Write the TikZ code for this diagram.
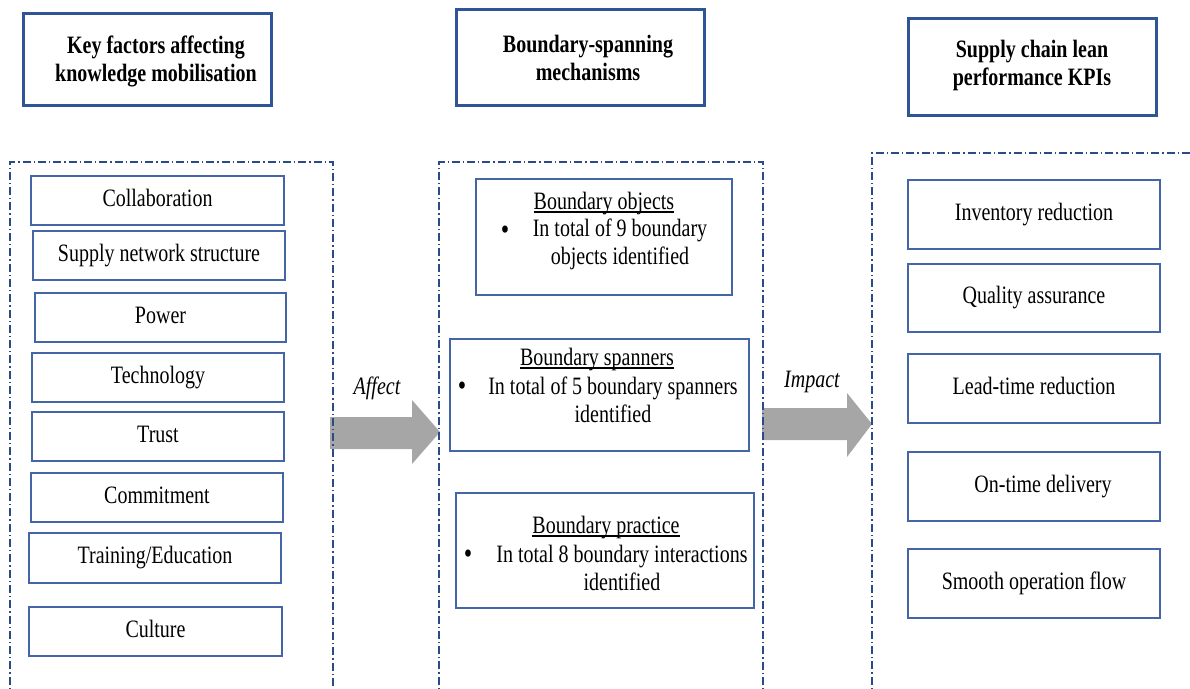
\documentclass[tikz,border=0pt]{standalone}
\usepackage{fontspec}
\setmainfont{Liberation Serif}[FakeStretch=0.8]
% underline that sits just below the baseline
\newcommand{\baseul}[1]{\setbox0=\hbox{#1}\rlap{\rule[-2.6pt]{\wd0}{1.1pt}}\box0}
\begin{document}
\begin{tikzpicture}[x=1pt,y=-1pt,
  every node/.style={font=\fontsize{25}{28}\selectfont, inner sep=0pt, align=center},
  hdr/.style={draw=hdrblue, line width=3pt, fill=white},
  item/.style={draw=boxblue, line width=1.5pt, text height=17pt, text depth=6pt},
  frame/.style={draw=frameblue, line width=1.2pt, dash pattern=on 8pt off 3pt on 1.3pt off 3pt},
  blockarrow/.style={fill=arrowgray, draw=none},
  bul/.style={font=\fontsize{30}{30}\selectfont}]
\definecolor{hdrblue}{HTML}{2F5597}
\definecolor{boxblue}{HTML}{4466A6}
\definecolor{frameblue}{HTML}{2A4A8A}
\definecolor{arrowgray}{HTML}{A6A6A6}

\useasboundingbox (0,0) rectangle (1190,688);
\begin{scope}
\clip (0,0) rectangle (1190,688);

% block arrows
\fill[blockarrow] (330,417) -- (412,417) -- (412,400) -- (440,432) -- (412,464) -- (412,449) -- (330,449) -- cycle;
\fill[blockarrow] (762,408) -- (847,408) -- (847,393) -- (872,424) -- (847,457) -- (847,440) -- (762,440) -- cycle;

% column frames (open at the bottom)
\draw[frame] (10,700) -- (10,162) -- (333,162) -- (333,700);
\draw[frame] (439,700) -- (439,162) -- (763,162) -- (763,700);
\draw[frame] (872,700) -- (872,153) -- (1200,153);
\end{scope}

% column headers
\node[hdr, minimum width=248pt, minimum height=92pt] (h1) at (147,59) {};
\node[font=\fontsize{25}{28}\selectfont\bfseries] (h1t) at (156,61) {Key factors affecting\\knowledge mobilisation};
\node[hdr, minimum width=248pt, minimum height=96pt] (h2) at (580,57) {};
\node[font=\fontsize{25}{28}\selectfont\bfseries] (h2t) at (588,57.5) {Boundary-spanning\\mechanisms};
\node[hdr, minimum width=248pt, minimum height=97pt] (h3) at (1032,66.5) {};
\node[font=\fontsize{25}{28}\selectfont\bfseries] (h3t) at (1032,65.5) {Supply chain lean\\performance KPIs};

% key factors
\node[item, minimum width=253pt, minimum height=49pt] (f1) at (157.5,200.5) {Collaboration};
\node[item, minimum width=252pt, minimum height=49pt] (f2) at (159,255.5) {Supply network structure};
\node[item, minimum width=251pt, minimum height=49pt] (f3) at (160.5,317.5) {Power};
\node[item, minimum width=252pt, minimum height=49pt] (f4) at (158,377.5) {Technology};
\node[item, minimum width=252pt, minimum height=49pt] (f5) at (158,436.5) {Trust};
\node[item, minimum width=252pt, minimum height=49pt] (f6) at (157,497.5) {Commitment};
\node[item, minimum width=252pt, minimum height=50pt] (f7) at (155,558) {Training/Education};
\node[item, minimum width=253pt, minimum height=49pt] (f8) at (155.5,631.5) {Culture};

% boundary-spanning mechanisms
\node[item, minimum width=256pt, minimum height=116pt] (m1) at (604,237) {};
\node (m1t) at (604,204) {\baseul{Boundary objects}};
\node[bul] (m1b) at (505,233) {\textbullet};
\node (m1x) at (620,244.5) {In total of 9 boundary\\objects identified};

\node[item, minimum width=299pt, minimum height=112pt] (m2) at (599.5,395) {};
\node (m2t) at (597,360) {\baseul{Boundary spanners}};
\node[bul] (m2b) at (462,389) {\textbullet};
\node (m2x) at (613,400) {In total of 5 boundary spanners\\identified};

\node[item, minimum width=298pt, minimum height=115pt] (m3) at (605,550.5) {};
\node (m3t) at (606,528) {\baseul{Boundary practice}};
\node[bul] (m3b) at (468,557) {\textbullet};
\node (m3x) at (622,568) {In total 8 boundary interactions\\identified};

% lean performance KPIs
\node[item, minimum width=252pt, minimum height=69pt] (k1) at (1034,214.5) {Inventory reduction};
\node[item, minimum width=252pt, minimum height=68pt] (k2) at (1034,298) {Quality assurance};
\node[item, minimum width=252pt, minimum height=69pt] (k3) at (1034,388.5) {Lead-time reduction};
\node[item, minimum width=252pt, minimum height=69pt] (k4) at (1034,486.5) {\hspace*{18pt}On-time delivery};
\node[item, minimum width=252pt, minimum height=69pt] (k5) at (1034,583.5) {Smooth operation flow};

% arrow labels
\node[font=\fontsize{25}{28}\selectfont\itshape] (affect) at (377,388) {Affect};
\node[font=\fontsize{25}{28}\selectfont\itshape] (impact) at (812,382) {Impact};
\end{tikzpicture}
\end{document}
